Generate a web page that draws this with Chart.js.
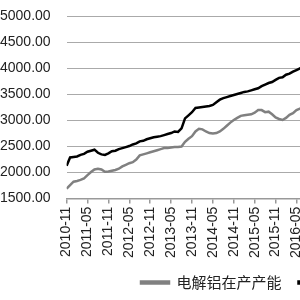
<!DOCTYPE html>
<html>
<head>
<meta charset="utf-8">
<script src="https://cdn.jsdelivr.net/npm/chart.js@4/dist/chart.umd.min.js"></script>
<style>
  html, body { margin: 0; padding: 0; background: #fff; }
  #wrap { position: relative; width: 300px; height: 300px; overflow: hidden; }
  #chart { position: absolute; left: -16px; top: -8px; }
</style>
</head>
<body>
<div id="wrap">
  <canvas id="chart" width="612" height="308"></canvas>
</div>
<script>
// monthly, 2010-11 .. 2016-07
const months = [
    '2010-11', '2010-12',
    '2011-01', '2011-02', '2011-03', '2011-04', '2011-05', '2011-06', '2011-07', '2011-08', '2011-09', '2011-10', '2011-11', '2011-12',
    '2012-01', '2012-02', '2012-03', '2012-04', '2012-05', '2012-06', '2012-07', '2012-08', '2012-09', '2012-10', '2012-11', '2012-12',
    '2013-01', '2013-02', '2013-03', '2013-04', '2013-05', '2013-06', '2013-07', '2013-08', '2013-09', '2013-10', '2013-11', '2013-12',
    '2014-01', '2014-02', '2014-03', '2014-04', '2014-05', '2014-06', '2014-07', '2014-08', '2014-09', '2014-10', '2014-11', '2014-12',
    '2015-01', '2015-02', '2015-03', '2015-04', '2015-05', '2015-06', '2015-07', '2015-08', '2015-09', '2015-10', '2015-11', '2015-12',
    '2016-01', '2016-02', '2016-03', '2016-04', '2016-05', '2016-06', '2016-07'
];

// 电解铝在产产能 (gray)
const runningCapacity = [
    1690, 1760,
    1825, 1840, 1860, 1890, 1950, 2010, 2060, 2075, 2060, 2015, 2020, 2035,
    2050, 2075, 2120, 2150, 2180, 2200, 2250, 2330, 2350, 2370, 2390, 2410,
    2430, 2450, 2470, 2470, 2480, 2490, 2490, 2500, 2590, 2650, 2700, 2790,
    2840, 2830, 2790, 2760, 2750, 2760, 2790, 2840, 2900, 2960, 3010, 3050,
    3090, 3100, 3110, 3120, 3150, 3200, 3200, 3160, 3170, 3120, 3060, 3030,
    3010, 3050, 3110, 3140, 3200, 3230, 3260
];

// 电解铝建成产能 (black)
const builtCapacity = [
    2130, 2290,
    2300, 2310, 2340, 2360, 2400, 2420, 2440, 2380, 2350, 2340, 2370, 2410,
    2420, 2450, 2470, 2490, 2510, 2540, 2560, 2600, 2610, 2640, 2660, 2680,
    2690, 2700, 2720, 2740, 2760, 2790, 2780, 2850, 3040, 3100, 3160, 3240,
    3250, 3260, 3270, 3280, 3300, 3350, 3400, 3430, 3450, 3470, 3490, 3510,
    3530, 3550, 3560, 3580, 3600, 3620, 3660, 3690, 3720, 3740, 3780, 3820,
    3830, 3880, 3900, 3940, 3970, 4000, 4050
];

const yTicks = [1500, 2000, 2500, 3000, 3500, 4000, 4500, 5000];

const font = 'Liberation Sans, Arial, Noto Sans CJK SC, sans-serif';

const ctx = document.getElementById('chart');

new Chart(ctx, {
    type: 'line',
    data: {
        datasets: [{
            label: '电解铝在产产能',
            data: runningCapacity.map((v, i) => ({ x: i, y: v })),
            borderColor: '#808080',
            backgroundColor: '#808080',
            borderWidth: 2.5,
            pointRadius: 0,
        }, {
            label: '电解铝建成产能',
            data: builtCapacity.map((v, i) => ({ x: i, y: v })),
            borderColor: '#000000',
            backgroundColor: '#000000',
            borderWidth: 2.5,
            pointRadius: 0,
        }],
    },
    options: {
        responsive: false,
        animation: false,
        layout: { padding: 0 },
        plugins: {
            tooltip: { enabled: false },
            legend: {
                position: 'bottom',
                labels: {
                    color: '#222',
                    font: { family: 'Noto Sans CJK SC, sans-serif', size: 15 },
                    boxWidth: 28,
                    boxHeight: 2,
                    padding: 17,
                },
            },
        },
        scales: {
            x: {
                type: 'linear',
                min: 0,
                max: 152,
                border: { display: true, color: '#999', width: 1.5 },
                grid: { drawOnChartArea: false, drawTicks: true, tickLength: 5, color: '#999', lineWidth: 1.5 },
                ticks: {
                    stepSize: 6,
                    autoSkip: false,
                    maxRotation: 90,
                    minRotation: 90,
                    color: '#222',
                    font: { family: font, size: 14 },
                    callback: (v) => months[v] || '',
                },
                afterBuildTicks: (axis) => {
                    axis.ticks = axis.ticks.filter(t => t.value % 6 === 0);
                },
                afterFit: (axis) => {
                    axis.height -= 3;
                },
            },
            y: {
                min: 1500,
                max: 5000,
                border: { display: false },
                grid: { drawTicks: false, color: '#aaa', lineWidth: 1, borderDash: [3, 2] },
                ticks: {
                    padding: 16,
                    color: '#222',
                    font: { family: font, size: 14 },
                    callback: (v) => v.toFixed(2),
                },
                afterBuildTicks: (axis) => {
                    axis.ticks = yTicks.map(v => ({ value: v }));
                },
            },
        },
    },
});
</script>
</body>
</html>
